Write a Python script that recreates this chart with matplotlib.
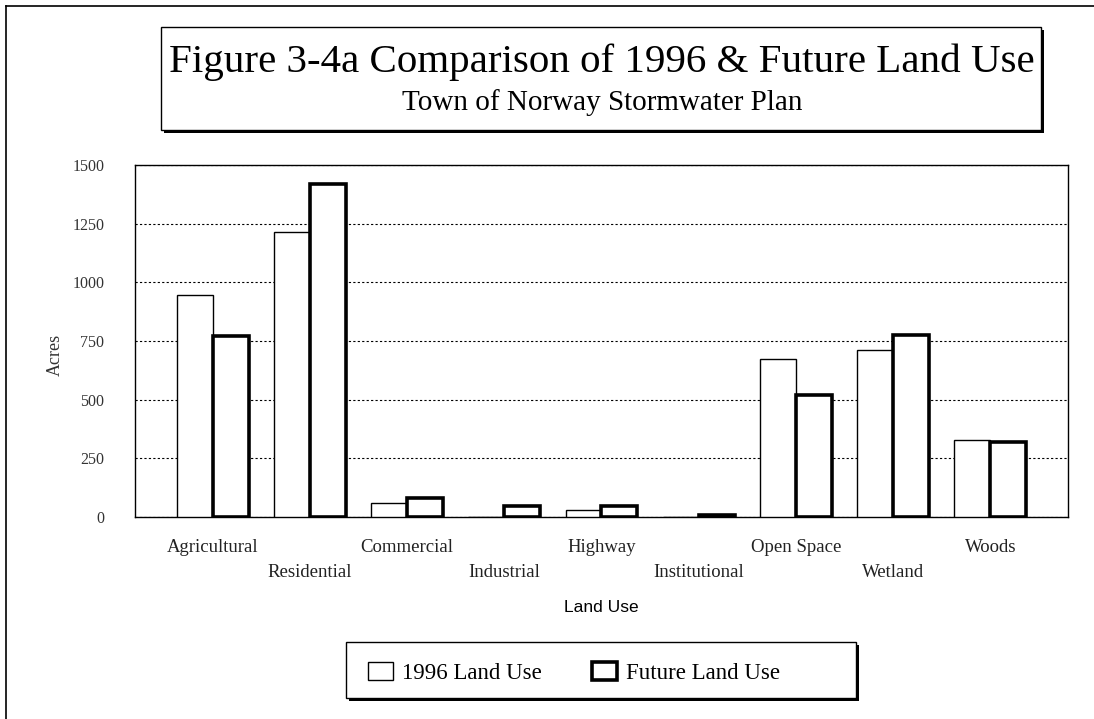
"""Figure 3-4a: comparison of 1996 and future land use (Town of Norway)."""
import matplotlib
matplotlib.use("Agg")
import matplotlib.pyplot as plt
import numpy as np
from matplotlib.patches import Rectangle, Patch
from matplotlib.lines import Line2D

categories = ["Agricultural", "Residential", "Commercial", "Industrial", "Highway",
              "Institutional", "Open Space", "Wetland", "Woods"]
acres_1996 = [948, 1216, 59, 0, 31, 0, 674, 711, 329]
acres_future = [772, 1418, 79, 45, 45, 8, 522, 776, 319]
yticks = [0, 250, 500, 750, 1000, 1250, 1500]

SERIF = "Liberation Serif"
SANS = "Liberation Sans"

W, H = 1094, 719
fig = plt.figure(figsize=(W / 100, H / 100), dpi=100)


def fx(px):
    return px / W


def fy(py):
    return 1 - py / H


# page border (scanned frame)
fig.add_artist(Line2D([fx(6), fx(6)], [fy(6), fy(719)], color="black", lw=1.2))
fig.add_artist(Line2D([fx(6), fx(1094)], [fy(6), fy(6)], color="black", lw=1.2))

ax = fig.add_axes([fx(135), fy(517), fx(1068) - fx(135), fy(165) - fy(517)])
x = np.arange(len(categories))
w = 0.37
ax.bar(x - w / 2, acres_1996, width=w, facecolor="white", edgecolor="black", lw=1.0, zorder=3)
ax.bar(x + w / 2, acres_future, width=w, facecolor="white", edgecolor="black", lw=2.6, zorder=3)

ax.set_xlim(-0.8, len(categories) - 0.2)
ax.set_ylim(0, 1500)
ax.set_yticks(yticks)
ax.set_yticklabels([str(v) for v in yticks], family=SERIF, fontsize=11.5, color="#333333")
ax.tick_params(axis="y", length=0, pad=22)
ax.tick_params(axis="x", length=0, pad=0)
ax.yaxis.grid(True, ls=(0, (2, 2)), color="black", lw=0.8, zorder=0)
ax.set_xticks(x)
ax.set_xticklabels([])
for i, name in enumerate(categories):
    ax.text(i, -130 if i % 2 == 0 else -235, name, ha="center", va="center",
            family=SERIF, fontsize=13.5, color="#222222")
for s in ax.spines.values():
    s.set_linewidth(1.0)
fig.text(fx(55), fy(355), "Acres", rotation=90, ha="center", va="center",
         family=SERIF, fontsize=13, color="#333333")
fig.text(fx(601), fy(607), "Land Use", ha="center", va="center", family=SANS, fontsize=12.5)

# title box with shadow
fig.add_artist(Rectangle((fx(164), fy(133)), fx(1044) - fx(164), fy(30) - fy(133),
                         facecolor="black", edgecolor="black", lw=0))
fig.add_artist(Rectangle((fx(161), fy(130)), fx(1041) - fx(161), fy(27) - fy(130),
                         facecolor="white", edgecolor="black", lw=1.0))
fig.text(fx(602), fy(62), "Figure 3-4a Comparison of 1996 & Future Land Use",
         ha="center", va="center", family=SERIF, fontsize=29.5)
fig.text(fx(602), fy(103), "Town of Norway Stormwater Plan",
         ha="center", va="center", family=SERIF, fontsize=21)

# legend box with shadow
fig.add_artist(Rectangle((fx(349), fy(701)), fx(859) - fx(349), fy(645) - fy(701),
                         facecolor="black", edgecolor="black", lw=0))
fig.add_artist(Rectangle((fx(346), fy(698)), fx(856) - fx(346), fy(642) - fy(698),
                         facecolor="white", edgecolor="black", lw=1.0))
handles = [Patch(facecolor="white", edgecolor="black", lw=1.0, label="1996 Land Use"),
           Patch(facecolor="white", edgecolor="black", lw=2.6, label="Future Land Use")]
fig.legend(handles=handles, loc="center", bbox_to_anchor=(fx(574), fy(673)), ncol=2,
           frameon=False, prop={"family": SERIF, "size": 16.5}, handlelength=1.1,
           handleheight=0.8, handletextpad=0.4, columnspacing=2.2)

fig.savefig("out.png", dpi=100)
plt.close(fig)
